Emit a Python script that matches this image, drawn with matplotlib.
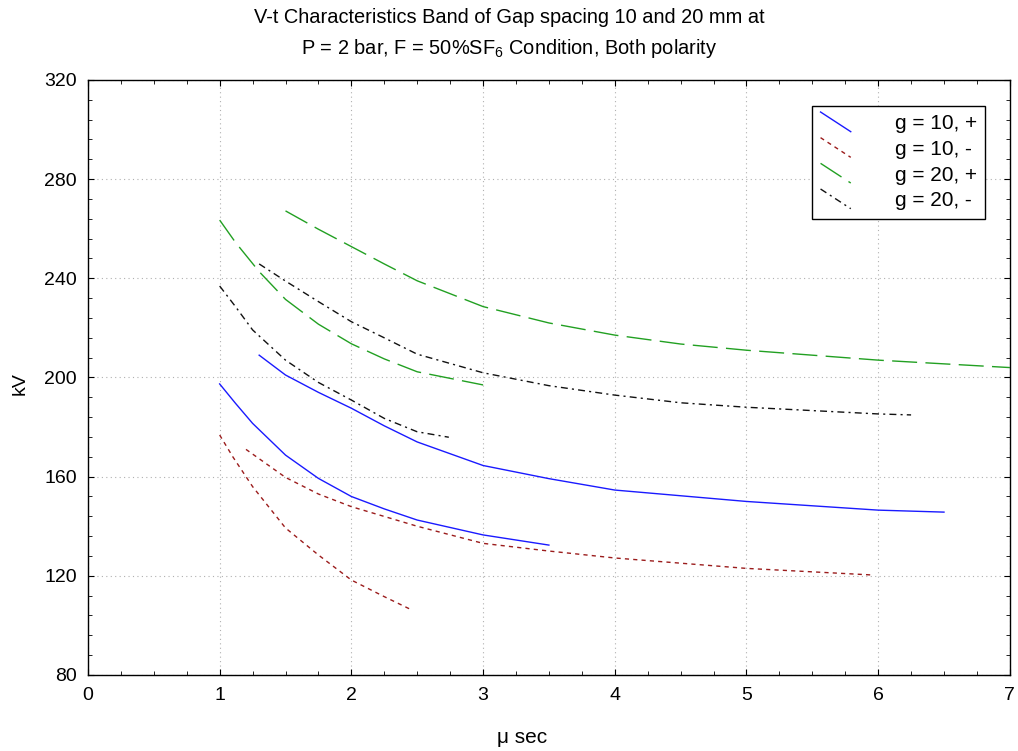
import numpy as np
import matplotlib
matplotlib.use('Agg')
import matplotlib.pyplot as plt
from matplotlib.lines import Line2D
from matplotlib.legend_handler import HandlerLine2D

plt.rcParams['font.family'] = ['Liberation Sans', 'DejaVu Sans']
plt.rcParams['mathtext.fontset'] = 'custom'
plt.rcParams['mathtext.rm'] = 'Liberation Sans'

# g = 10 mm, positive polarity (upper / lower band)
x_p10_hi = [1.3, 1.5, 1.75, 2.0, 2.25, 2.5, 3.0, 3.5, 4.0, 5.0, 6.0, 6.5]
v_p10_hi = [209.0, 201.0, 194.0, 187.6, 180.5, 174.0, 164.5, 159.2, 154.6, 150.0, 146.5, 145.7]
x_p10_lo = [1.0, 1.12, 1.25, 1.5, 1.75, 2.0, 2.25, 2.5, 3.0, 3.5]
v_p10_lo = [197.4, 189.6, 181.5, 168.7, 159.3, 152.0, 147.0, 142.5, 136.5, 132.4]

# g = 10 mm, negative polarity
x_n10_hi = [1.2, 1.5, 1.75, 2.0, 2.5, 3.0, 3.5, 4.0, 5.0, 5.97]
v_n10_hi = [171.0, 159.7, 153.0, 147.9, 140.0, 133.1, 130.0, 127.2, 123.0, 120.3]
x_n10_lo = [1.0, 1.1, 1.25, 1.5, 1.75, 2.0, 2.25, 2.46]
v_n10_lo = [176.8, 168.0, 156.0, 139.3, 128.4, 118.3, 111.6, 106.2]

# g = 20 mm, positive polarity
x_p20_hi = [1.5, 1.75, 2.0, 2.25, 2.5, 3.0, 3.5, 4.0, 4.5, 5.0, 6.0, 7.0]
v_p20_hi = [267.2, 259.8, 252.8, 245.8, 239.0, 228.6, 222.0, 217.1, 213.5, 211.0, 207.0, 204.0]
x_p20_lo = [1.0, 1.12, 1.3, 1.5, 1.75, 2.0, 2.25, 2.5, 3.0]
v_p20_lo = [263.5, 254.5, 242.7, 231.5, 221.5, 213.6, 207.5, 202.3, 197.0]

# g = 20 mm, negative polarity
x_n20_hi = [1.3, 1.5, 1.75, 2.0, 2.25, 2.5, 3.0, 3.5, 4.0, 4.5, 5.0, 6.0, 6.25]
v_n20_hi = [245.8, 238.9, 230.6, 222.5, 216.0, 209.4, 201.9, 196.7, 192.9, 189.8, 188.0, 185.3, 184.9]
x_n20_lo = [1.0, 1.12, 1.25, 1.5, 1.75, 2.0, 2.25, 2.5, 2.74]
v_n20_lo = [236.9, 228.6, 219.2, 207.0, 198.0, 190.9, 183.5, 178.1, 175.9]

labels = ['g = 10, +', 'g = 10, -', 'g = 20, +', 'g = 20, -']


class DiagHandler(HandlerLine2D):
    # legend sample drawn as a short descending diagonal
    def create_artists(self, legend, orig_handle, xdescent, ydescent,
                       width, height, fontsize, trans):
        line = Line2D([-xdescent, -xdescent + width],
                      [-ydescent + height * 1.2, -ydescent - height * 0.15])
        self.update_prop(line, orig_handle, legend)
        line.set_transform(trans)
        return [line]


fig = plt.figure(figsize=(10.18, 7.51), dpi=100)
ax = fig.add_axes([0.0864, 0.1012, 0.9056, 0.7923])

blue = '#1a1aff'
red = '#9b1c1c'
green = '#22a022'
black = '#111111'

l1, = ax.plot(x_p10_hi, v_p10_hi, color=blue, lw=1.0, label=labels[0])
ax.plot(x_p10_lo, v_p10_lo, color=blue, lw=1.0)
l2, = ax.plot(x_n10_hi, v_n10_hi, color=red, lw=1.0, dashes=(3, 3), label=labels[1])
ax.plot(x_n10_lo, v_n10_lo, color=red, lw=1.0, dashes=(3, 3))
l3, = ax.plot(x_p20_hi, v_p20_hi, color=green, lw=1.0, dashes=(18, 6), label=labels[2])
ax.plot(x_p20_lo, v_p20_lo, color=green, lw=1.0, dashes=(18, 6))
l4, = ax.plot(x_n20_hi, v_n20_hi, color=black, lw=1.0, dashes=(5, 3, 1.5, 3), label=labels[3])
ax.plot(x_n20_lo, v_n20_lo, color=black, lw=1.0, dashes=(5, 3, 1.5, 3))

ax.set_xlim(0, 7)
ax.set_ylim(80, 320)
ax.set_xticks(np.arange(0, 8, 1))
ax.set_yticks(np.arange(80, 321, 40))
ax.set_xticks(np.arange(0, 7.01, 0.25), minor=True)
ax.set_yticks(np.arange(80, 321, 8), minor=True)
ax.tick_params(which='both', direction='in', top=True, right=True, labelsize=14)
ax.tick_params(which='major', length=4)
ax.tick_params(which='minor', length=3)
ax.tick_params(axis='x', which='major', pad=9)
ax.tick_params(axis='y', which='major', pad=8)
ax.grid(True, which='major', linestyle=(0, (1, 3)), color='#b0b0b0', lw=0.8)
for s in ax.spines.values():
    s.set_linewidth(1.0)

ax.set_xlabel('μ sec', fontsize=15)
ax.xaxis.set_label_coords(0.471, -0.1046)
ax.xaxis.label.set_va('center')
ax.set_ylabel('kV', fontsize=14)
ax.yaxis.set_label_coords(-0.074, 0.49)
ax.yaxis.label.set_va('center')

fig.text(0.5, 0.9694, 'V-t Characteristics Band of Gap spacing 10 and 20 mm at',
         ha='center', va='baseline', fontsize=14.4)
fig.text(0.5, 0.9281, 'P = 2 bar, F = 50%SF$_6$ Condition, Both polarity',
         ha='center', va='baseline', fontsize=14.4)

leg = ax.legend(handles=[l1, l2, l3, l4], loc='upper right',
                bbox_to_anchor=(0.973, 0.956), borderaxespad=0, fontsize=15,
                handlelength=1.45, handletextpad=2.1, labelspacing=0.32,
                fancybox=False, edgecolor='black', framealpha=1,
                borderpad=0.4, handler_map={Line2D: DiagHandler()})
leg.get_frame().set_linewidth(1.0)

fig.savefig('out.png', dpi=100)
